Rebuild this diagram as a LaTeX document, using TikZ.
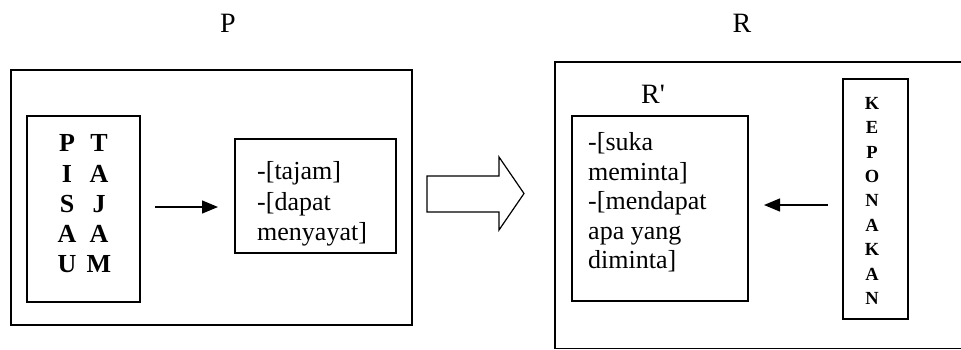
\documentclass[tikz,border=0pt]{standalone}
\usepackage{fontspec}
\setmainfont{Liberation Serif}
\usetikzlibrary{arrows.meta}
\begin{document}
\begin{tikzpicture}[x=1pt,y=-1pt,
  box/.style={draw, line width=1.3pt, inner sep=0pt, outer sep=0pt},
  arr/.style={line width=1.3pt, -{Triangle[length=16pt,width=13pt]}},
  body/.style={font=\fontsize{26}{30.5}\selectfont, align=left, inner sep=0pt, anchor=north west},
  label/.style={font=\fontsize{28}{32}\selectfont, inner sep=0pt, anchor=base},
  boldcol/.style={font=\bfseries\fontsize{26}{30.3}\selectfont, align=center, inner sep=0pt, anchor=north},
  vertword/.style={font=\bfseries\fontsize{18.5}{24.4}\selectfont, align=center, inner sep=0pt, anchor=north}]
\useasboundingbox (0,0) rectangle (961,349);
\clip (0,0) rectangle (961,349);

% top labels
\node[label] (lblP) at (228,32) {P};
\node[label] (lblR) at (742,32) {R};

% left frame: PISAU TAJAM and its meaning
\node[box, minimum width=401pt, minimum height=255pt] (Pframe) at (211.5,197.5) {};
\node[box, minimum width=113pt, minimum height=186pt] (pisau) at (83.5,209) {};
\node[boldcol] (colA) at (67,134.5) {P\\I\\S\\A\\U};
\node[boldcol] (colB) at (99,134.5) {T\\A\\J\\A\\M};
\node[box, minimum width=161pt, minimum height=114pt] (tajam) at (315.5,196) {};
\node[body] (tajamtxt) at (257,161.3) {-[tajam]\\-[dapat\\menyayat]};

\coordinate (a1) at ([shift={(15pt,2pt)}]pisau.east);
\draw[arr, shorten >=17pt] (a1) -- (tajam.west |- a1);

% hollow transfer arrow
\draw[line width=1.2pt, line join=miter]
  (427,176) -- (499,176) -- (499,157) -- (524,193.5) -- (499,230) -- (499,212) -- (427,212) -- cycle;

% right frame: R' and KEPONAKAN
\node[box, minimum width=420pt, minimum height=286.5pt] (Rframe) at (765,205.25) {};
\node[label] (lblRp) at (653,103) {R\textquotesingle};
\node[box, minimum width=176pt, minimum height=185pt] (rp) at (660,208.5) {};
\node[body, font=\fontsize{26}{29.5}\selectfont] (rptxt) at (588,132.3) {-[suka\\meminta]\\-[mendapat\\apa yang\\diminta]};
\node[box, minimum width=65pt, minimum height=240pt] (kep) at (875.5,199) {};
\node[vertword] (keptxt) at (872,97) {K\\E\\P\\O\\N\\A\\K\\A\\N};

\coordinate (a2) at ([shift={(-15pt,-6pt)}]kep.west);
\draw[arr, shorten >=16pt] (a2) -- (rp.east |- a2);
\end{tikzpicture}
\end{document}
